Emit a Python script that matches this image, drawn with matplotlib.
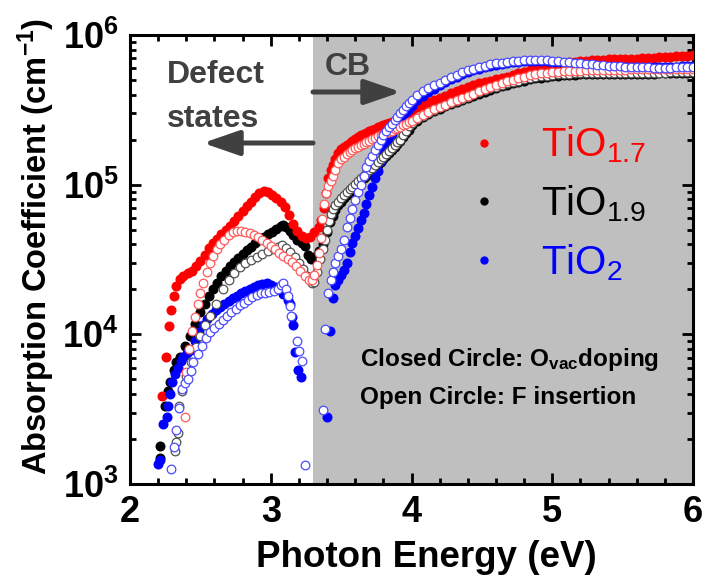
import numpy as np
import matplotlib
matplotlib.use('Agg')
import matplotlib.pyplot as plt
from matplotlib.lines import Line2D
from matplotlib.ticker import MultipleLocator, LogLocator, FuncFormatter, NullFormatter

plt.rcParams['font.family'] = ['Liberation Sans', 'DejaVu Sans']
plt.rcParams['mathtext.fontset'] = 'custom'
plt.rcParams['mathtext.rm'] = 'Liberation Sans'
plt.rcParams['mathtext.bf'] = 'Liberation Sans:bold'
plt.rcParams['mathtext.it'] = 'Liberation Sans:italic'

# absorption coefficient values are in units of 1e4 cm^-1
# shared energy grids (eV) for the band-edge rise and the plateau
e_rise = [3.44, 3.46, 3.48, 3.50, 3.52, 3.54, 3.56, 3.58, 3.60, 3.62,
          3.64, 3.66, 3.68, 3.70, 3.72, 3.74, 3.76, 3.78, 3.80, 3.82,
          3.84, 3.86, 3.88, 3.90, 3.92, 3.94, 3.96, 3.98]
e_plat = [4.00, 4.04, 4.08, 4.12, 4.16, 4.20, 4.24, 4.28, 4.32, 4.36,
          4.40, 4.44, 4.48, 4.52, 4.56, 4.60, 4.64, 4.68, 4.72, 4.76,
          4.80, 4.84, 4.88, 4.92, 4.96, 5.00, 5.04, 5.08, 5.12, 5.16,
          5.20, 5.24, 5.28, 5.32, 5.36, 5.40, 5.44, 5.48, 5.52, 5.56,
          5.60, 5.64, 5.68, 5.72, 5.76, 5.80, 5.84, 5.88, 5.92, 5.96, 6.00]

# TiO1.7, O-vacancy doping (closed red)
red_closed_e = [2.23, 2.255, 2.275, 2.29, 2.31, 2.33, 2.355, 2.38, 2.41, 2.44,
                2.47, 2.50, 2.53, 2.56, 2.59, 2.62, 2.65, 2.68, 2.71, 2.74,
                2.77, 2.80, 2.83, 2.86, 2.89, 2.92, 2.95, 2.98, 3.01, 3.04,
                3.07, 3.10, 3.13, 3.16, 3.19, 3.22, 3.25, 3.28, 3.31, 3.34,
                3.36, 3.375, 3.39, 3.41, 3.425]
red_closed_low = [0.39, 0.71, 1.13, 1.45, 1.8, 2.1, 2.33, 2.45, 2.55, 2.65,
                  2.85, 3.1, 3.4, 3.75, 4.05, 4.35, 4.65, 4.95, 5.3, 5.7,
                  6.2, 6.7, 7.2, 7.7, 8.3, 8.8, 9.1, 8.9, 8.5, 8.1,
                  7.7, 7.1, 6.3, 5.5, 4.9, 4.55, 4.4, 4.5, 4.8, 5.2,
                  5.8, 7.0, 8.8, 11.0, 12.6]
red_closed_rise = [13.5, 14.8, 16.4, 17.3, 17.8, 18.3, 18.9, 19.6, 20.3, 20.9,
                   21.4, 21.8, 22.3, 22.8, 23.2, 23.7, 24.1, 24.5, 24.9, 25.3,
                   25.8, 26.2, 26.7, 27.4, 28.1, 28.9, 29.7, 30.6]
red_closed_plat = [31.4, 33.0, 34.3, 35.6, 36.8, 38.0, 39.4, 40.8, 42.1, 43.5,
                   45.0, 46.3, 47.5, 48.6, 49.6, 50.6, 51.7, 52.8, 54.0, 55.4,
                   57.0, 58.4, 59.8, 61.0, 62.0, 63.0, 63.9, 64.8, 65.6, 66.3,
                   67.0, 67.4, 67.8, 68.1, 68.4, 68.6, 68.8, 69.0, 69.2, 69.4,
                   69.6, 69.9, 70.2, 70.5, 70.8, 71.1, 71.5, 71.9, 72.3, 72.7, 73.1]

# TiO1.7, F insertion (open red)
red_open_e = [2.39, 2.40, 2.42, 2.44, 2.46, 2.48, 2.50, 2.52, 2.545, 2.57,
              2.59, 2.615, 2.64, 2.67, 2.70, 2.73, 2.76, 2.79, 2.82, 2.85,
              2.88, 2.91, 2.94, 2.97, 3.00, 3.03, 3.06, 3.09, 3.12, 3.15,
              3.18, 3.21, 3.24, 3.27, 3.29, 3.31, 3.33, 3.345, 3.355, 3.365,
              3.375, 3.39, 3.41, 3.425]
red_open_low = [0.28, 0.56, 0.8, 1.05, 1.3, 1.6, 1.9, 2.2, 2.6, 3.0,
                3.35, 3.7, 4.0, 4.3, 4.6, 4.8, 4.9, 4.9, 4.85, 4.75,
                4.6, 4.45, 4.3, 4.1, 3.9, 3.7, 3.5, 3.35, 3.2, 3.05,
                2.85, 2.65, 2.45, 2.3, 2.3, 2.5, 2.9, 3.5, 4.4, 5.9,
                7.4, 8.8, 9.8, 10.6]
red_open_rise = [11.4, 12.6, 14.0, 14.9, 15.4, 16.0, 16.5, 17.0, 17.5, 17.9,
                 18.3, 18.7, 19.2, 19.6, 20.1, 20.5, 21.0, 21.4, 21.8, 22.2,
                 22.6, 23.0, 23.5, 23.9, 24.4, 25.0, 25.6, 26.2]
red_open_plat = [26.8, 28.0, 29.3, 30.6, 31.8, 33.0, 34.2, 35.4, 36.6, 37.8,
                 39.0, 40.5, 42.0, 43.5, 45.0, 46.4, 47.8, 49.0, 50.2, 51.4,
                 52.6, 53.7, 54.6, 55.4, 56.0, 56.5, 56.9, 57.2, 57.5, 57.7,
                 57.9, 58.1, 58.3, 58.4, 58.5, 58.6, 58.7, 58.8, 58.8, 58.9,
                 58.9, 59.0, 59.0, 59.0, 59.1, 59.1, 59.2, 59.2, 59.3, 59.4, 59.5]

# TiO1.9, O-vacancy doping (closed black)
black_closed_e = [2.21, 2.215, 2.25, 2.27, 2.285, 2.31, 2.33, 2.355, 2.39, 2.425,
                  2.46, 2.50, 2.53, 2.56, 2.59, 2.62, 2.65, 2.68, 2.71, 2.74,
                  2.77, 2.80, 2.83, 2.86, 2.89, 2.92, 2.95, 2.98, 3.01, 3.04,
                  3.07, 3.09, 3.11, 3.135, 3.16, 3.19, 3.22, 3.245, 3.265, 3.285,
                  3.31, 3.34, 3.37, 3.40, 3.42]
black_closed_low = [0.15, 0.18, 0.33, 0.42, 0.48, 0.58, 0.65, 0.71, 0.84, 0.97,
                    1.17, 1.4, 1.6, 1.8, 2.0, 2.2, 2.45, 2.65, 2.85, 3.05,
                    3.25, 3.45, 3.65, 3.85, 4.05, 4.25, 4.45, 4.65, 4.85, 5.05,
                    5.3, 5.4, 5.2, 4.9, 4.6, 4.3, 4.1, 3.9, 3.4, 3.2,
                    3.3, 3.6, 4.0, 4.8, 5.6]
black_closed_rise = [6.2, 6.8, 7.3, 7.7, 8.1, 8.5, 8.9, 9.3, 9.7, 10.1,
                     10.6, 11.0, 11.5, 12.0, 12.5, 13.1, 13.6, 14.2, 14.8, 15.5,
                     16.2, 17.0, 17.8, 18.7, 19.6, 20.7, 22.0, 23.3]
black_closed_plat = [25.0, 26.7, 28.2, 29.6, 30.9, 32.1, 33.3, 34.5, 35.7, 36.9,
                     38.1, 39.4, 40.6, 41.9, 43.1, 44.3, 45.5, 46.6, 47.7, 48.7,
                     49.6, 50.5, 51.3, 52.0, 52.6, 53.1, 53.5, 53.9, 54.2, 54.4,
                     54.6, 54.7, 54.8, 54.8, 54.9, 54.9, 55.0, 55.0, 55.1, 55.1,
                     55.2, 55.2, 55.3, 55.3, 55.4, 55.4, 55.5, 55.5, 55.6, 55.6, 55.7]

# TiO1.9, F insertion (open black)
black_open_e = [2.32, 2.33, 2.34, 2.35, 2.37, 2.40, 2.43, 2.47, 2.50, 2.535,
                2.57, 2.61, 2.66, 2.70, 2.74, 2.78, 2.82, 2.86, 2.90, 2.94,
                2.98, 3.02, 3.05, 3.08, 3.11, 3.14, 3.17, 3.20, 3.23, 3.26,
                3.29, 3.31, 3.33, 3.35, 3.37, 3.385, 3.40, 3.415, 3.43]
black_open_low = [0.166, 0.19, 0.22, 0.33, 0.42, 0.53, 0.65, 0.82, 0.97, 1.15,
                  1.32, 1.6, 2.0, 2.3, 2.55, 2.8, 3.0, 3.15, 3.3, 3.45,
                  3.6, 3.7, 3.85, 3.95, 3.8, 3.55, 3.3, 3.0, 2.75, 2.45,
                  2.2, 2.25, 2.6, 3.2, 3.7, 4.3, 5.0, 5.7, 6.4]
black_open_rise = [6.9, 7.3, 7.7, 8.1, 8.5, 8.9, 9.3, 9.7, 10.1, 10.6,
                   11.0, 11.5, 12.0, 12.5, 13.0, 13.6, 14.2, 14.8, 15.4, 16.1,
                   16.8, 17.6, 18.4, 19.2, 20.0, 21.5, 23.0, 24.5]
black_open_plat = [25.8, 27.4, 28.9, 30.3, 31.6, 32.8, 34.0, 35.2, 36.4, 37.6,
                   38.8, 40.1, 41.4, 42.7, 44.0, 45.2, 46.4, 47.5, 48.6, 49.6,
                   50.6, 51.5, 52.3, 53.0, 53.6, 54.1, 54.5, 54.9, 55.2, 55.4,
                   55.6, 55.7, 55.8, 55.8, 55.8, 55.9, 55.9, 55.9, 56.0, 56.0,
                   56.0, 56.0, 56.1, 56.1, 56.1, 56.1, 56.2, 56.2, 56.2, 56.3, 56.3]

# TiO2, O-vacancy doping (closed blue)
blue_closed_e = [2.20, 2.21, 2.235, 2.26, 2.27, 2.285, 2.30, 2.32, 2.34, 2.36,
                 2.38, 2.405, 2.43, 2.46, 2.49, 2.52, 2.55, 2.58, 2.61, 2.64,
                 2.67, 2.70, 2.73, 2.76, 2.79, 2.82, 2.85, 2.88, 2.91, 2.94,
                 2.97, 3.00, 3.03, 3.06, 3.09, 3.12, 3.14, 3.15, 3.155, 3.17,
                 3.195, 3.215, 3.40, 3.42]
blue_closed_low = [0.136, 0.145, 0.25, 0.28, 0.33, 0.40, 0.48, 0.54, 0.60, 0.66,
                   0.71, 0.75, 0.79, 0.9, 1.03, 1.15, 1.26, 1.36, 1.45, 1.53,
                   1.6, 1.67, 1.74, 1.81, 1.88, 1.94, 2.0, 2.06, 2.12, 2.18,
                   2.2, 2.15, 2.08, 2.0, 1.85, 1.7, 1.6, 1.3, 1.15, 0.76,
                   0.58, 0.52, 0.28, 1.05]
blue_closed_rise = [1.75, 2.15, 2.3, 2.5, 2.7, 3.0, 3.55, 4.05, 4.55, 5.1,
                    5.8, 6.5, 7.4, 8.5, 9.6, 11.0, 12.4, 14.4, 16.3, 18.1,
                    20.0, 21.8, 23.6, 25.6, 27.5, 29.0, 30.6, 32.2]
blue_closed_plat = [33.8, 37.0, 39.4, 41.6, 43.8, 46.0, 48.3, 50.5, 52.6, 54.6,
                    56.3, 58.0, 59.5, 60.9, 62.1, 63.3, 64.2, 65.0, 65.7, 66.2,
                    66.6, 66.9, 67.0, 66.9, 66.6, 66.2, 65.7, 65.2, 64.6, 64.0,
                    63.5, 63.0, 62.5, 62.1, 61.8, 61.5, 61.3, 61.1, 61.0, 60.9,
                    60.9, 60.9, 60.9, 61.0, 61.0, 61.1, 61.2, 61.4, 61.6, 61.8, 62.0]

# TiO2, F insertion (open blue)
blue_open_e = [2.29, 2.31, 2.33, 2.35, 2.37, 2.39, 2.41, 2.43, 2.45, 2.48,
               2.51, 2.54, 2.57, 2.60, 2.63, 2.66, 2.69, 2.72, 2.75, 2.78,
               2.81, 2.84, 2.87, 2.90, 2.93, 2.96, 2.99, 3.02, 3.05, 3.07,
               3.09, 3.11, 3.125, 3.135, 3.145, 3.19, 3.20, 3.22, 3.24, 3.37,
               3.385, 3.41, 3.425]
blue_open_low = [0.126, 0.177, 0.23, 0.32, 0.43, 0.47, 0.5, 0.57, 0.65, 0.74,
                 0.84, 0.94, 1.03, 1.11, 1.18, 1.25, 1.32, 1.4, 1.48, 1.56,
                 1.63, 1.7, 1.77, 1.83, 1.88, 1.9, 1.92, 1.94, 2.02, 2.12,
                 2.2, 2.0, 1.8, 1.54, 1.32, 0.9, 0.77, 0.66, 0.134, 0.31,
                 1.08, 1.9, 2.3]
blue_open_rise = [2.6, 3.0, 3.35, 3.7, 4.3, 5.2, 6.0, 6.9, 7.9, 8.9,
                  10.0, 11.5, 13.2, 14.4, 15.6, 17.0, 18.4, 19.9, 21.4, 22.9,
                  24.3, 25.6, 27.0, 28.5, 30.0, 31.6, 33.3, 35.0]
blue_open_plat = [36.7, 40.0, 42.2, 44.2, 46.1, 48.0, 50.2, 52.3, 54.4, 56.4,
                  58.0, 59.6, 61.2, 62.5, 63.6, 64.6, 65.5, 66.4, 67.0, 67.5,
                  67.8, 68.0, 68.0, 67.9, 67.7, 67.4, 66.9, 66.3, 65.8, 65.3,
                  64.8, 64.2, 63.7, 63.2, 62.8, 62.4, 62.0, 61.7, 61.4, 61.2,
                  61.0, 60.8, 60.7, 60.6, 60.5, 60.5, 60.6, 60.7, 60.8, 61.0, 61.2]

legend_labels = ['TiO$_{\\mathregular{1.7}}$', 'TiO$_{\\mathregular{1.9}}$', 'TiO$_{\\mathregular{2}}$']
legend_colors = ['#ff0000', '#000000', '#0000ff']


def full(e_low, v_low, v_rise, v_plat):
    e = np.concatenate([e_low, e_rise, e_plat])
    v = np.concatenate([v_low, v_rise, v_plat]) * 1e4
    return e, v


fig = plt.figure(figsize=(7.04, 5.75), dpi=100)
ax = fig.add_axes([130 / 704, 1 - 484 / 575, 563 / 704, 449 / 575])

ax.axvspan(3.3, 6.0, color='#bfbfbf', lw=0, zorder=0)

ms = 6.2
closed = [
    (full(black_closed_e, black_closed_low, black_closed_rise, black_closed_plat), '#000000'),
    (full(red_closed_e, red_closed_low, red_closed_rise, red_closed_plat), '#ff0000'),
    (full(blue_closed_e, blue_closed_low, blue_closed_rise, blue_closed_plat), '#0000ff'),
]
for (e, v), c in closed:
    ax.plot(e, v, 'o', ls='none', ms=ms, color=c, mec=c, zorder=3)

opened = [
    (full(black_open_e, black_open_low, black_open_rise, black_open_plat), '#505050'),
    (full(red_open_e, red_open_low, red_open_rise, red_open_plat), '#ff5a5a'),
    (full(blue_open_e, blue_open_low, blue_open_rise, blue_open_plat), '#4b4bff'),
]
for (e, v), c in opened:
    ax.plot(e, v, 'o', ls='none', ms=ms, mfc='white', mec=c, mew=0.9, zorder=4)

ax.set_xlim(2, 6)
ax.set_yscale('log')
ax.set_ylim(1e3, 1e6)

ax.xaxis.set_major_locator(MultipleLocator(1))
ax.xaxis.set_minor_locator(MultipleLocator(0.2))
ax.xaxis.set_major_formatter(FuncFormatter(lambda v, p: '%d' % round(v)))
ax.yaxis.set_major_locator(LogLocator(base=10))
ax.yaxis.set_minor_locator(LogLocator(base=10, subs=range(2, 10)))
ax.yaxis.set_minor_formatter(NullFormatter())
ax.yaxis.set_major_formatter(FuncFormatter(lambda v, p: r'$\mathbf{10^{%d}}$' % round(np.log10(v))))

ax.tick_params(which='both', direction='in', top=True, right=True, width=2)
ax.tick_params(which='major', length=8, labelsize=26, pad=8)
ax.tick_params(which='minor', length=4.5)
for t in ax.get_xticklabels():
    t.set_fontweight('bold')
for s in ax.spines.values():
    s.set_linewidth(2.2)

ax.set_xlabel('Photon Energy (eV)', fontsize=26.5, fontweight='bold')
ax.xaxis.set_label_coords(0.527, -0.125)
ax.set_ylabel('Absorption Coefficient (cm$^{\\mathbf{-1}}$)', fontsize=23.5, fontweight='bold')
ax.yaxis.set_label_coords(-0.13, 0.53)

handles = [Line2D([0], [0], marker='o', ls='none', color=c, ms=5) for c in legend_colors]
leg = ax.legend(handles, legend_labels, loc='upper left', bbox_to_anchor=(0.615, 0.80),
                frameon=False, fontsize=29, handlelength=0.4, handletextpad=1.2,
                labelspacing=0.45, borderpad=0, borderaxespad=0)
for t, c in zip(leg.get_texts(), legend_colors):
    t.set_color(c)

gray = '#404040'
fig.text(167 / 704, 1 - 83 / 575, 'Defect', fontsize=23, fontweight='bold', color=gray, va='baseline')
fig.text(167 / 704, 1 - 127 / 575, 'states', fontsize=23, fontweight='bold', color=gray, va='baseline')
fig.text(325 / 704, 1 - 75 / 575, 'CB', fontsize=23, fontweight='bold', color=gray, va='baseline')

arrow = dict(arrowstyle='-|>,head_length=1.1,head_width=0.38', lw=3.6, color=gray,
             mutation_scale=20, shrinkA=0, shrinkB=0)
ax.annotate('', xy=(203, 575 - 143), xytext=(313, 575 - 143),
            xycoords='figure pixels', textcoords='figure pixels', arrowprops=arrow, zorder=6)
ax.annotate('', xy=(401, 575 - 92), xytext=(313, 575 - 92),
            xycoords='figure pixels', textcoords='figure pixels', arrowprops=arrow, zorder=6)

fig.text(360 / 704, 1 - 366 / 575, 'Closed Circle: O$_{\\mathbf{vac}}$doping', fontsize=17.5,
         fontweight='bold', va='baseline')
fig.text(360 / 704, 1 - 404 / 575, 'Open Circle: F insertion', fontsize=17.5,
         fontweight='bold', va='baseline')

fig.savefig('out.png', dpi=100)
